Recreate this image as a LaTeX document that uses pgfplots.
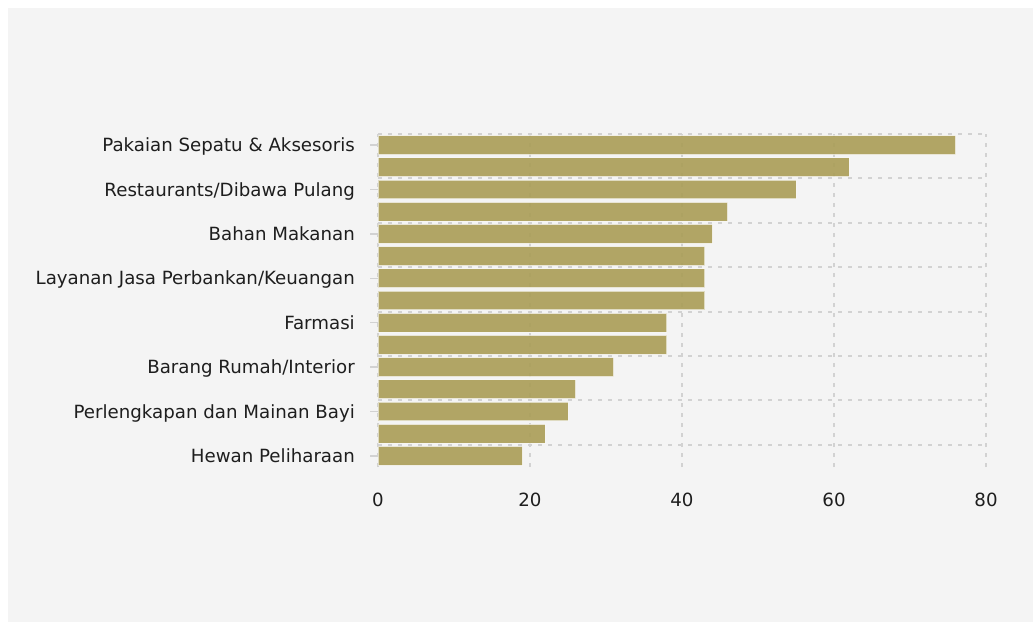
\documentclass[border=0pt]{standalone}
\usepackage{pgfplots}
\pgfplotsset{compat=1.18}
\usepackage{pgfplotstable}
\usepackage{fontspec}
\setmainfont{DejaVu Sans}
\definecolor{bg}{RGB}{244,244,244}
\definecolor{barc}{RGB}{170,157,86}
\definecolor{gridc}{RGB}{210,210,210}
\definecolor{txt}{RGB}{30,30,30}

\pgfplotstableread{
y v
14 76
13 62
12 55
11 46
10 44
9 43
8 43
7 43
6 38
5 38
4 31
3 26
2 25
1 22
0 19
}\data

\begin{document}
\begin{tikzpicture}[x=1pt,y=1pt]
\fill[white] (0,0) rectangle (1033,622);
\fill[bg] (8,0) rectangle (1033,614);
\begin{axis}[
  at={(378pt,155pt)}, anchor=south west,
  scale only axis, width=608pt, height=333pt,
  xbar, bar width=0.85,
  xmin=0, xmax=80, ymin=-0.5, ymax=14.5,
  axis line style={draw=none},
  xtick={0,20,40,60,80},
  ytick={0,2,...,14},
  yticklabels={Hewan Peliharaan, Perlengkapan dan Mainan Bayi, Barang Rumah/Interior, Farmasi, Layanan Jasa Perbankan/Keuangan, Bahan Makanan, Restaurants/Dibawa Pulang, Pakaian Sepatu \& Aksesoris},
  extra y ticks={0.5,2.5,4.5,6.5,8.5,10.5,12.5,14.5},
  extra y tick labels={},
  extra y tick style={grid=major, major tick length=0pt},
  xmajorgrids=true, ymajorgrids=false,
  grid style={gridc, line width=2pt, dash pattern=on 4pt off 6pt},
  tick align=outside,
  ytick pos=left, xtick pos=bottom,
  major tick length=8pt,
  x tick style={draw=none},
  y tick style={draw=gridc, line width=1.5pt},
  /pgf/number format/assume math mode=true,
  ticklabel style={font=\fontsize{18.2}{21}\selectfont, text=txt, inner sep=0pt},
  yticklabel style={anchor=east, text height=13.3pt, text depth=0pt, xshift=-15pt},
  xticklabel style={anchor=north, text height=13.3pt, text depth=0pt, yshift=-18pt},
]
\addplot[fill=barc, fill opacity=0.9, draw=white, draw opacity=0.6, line width=1pt] table[x=v, y=y]{\data};
\end{axis}
\end{tikzpicture}
\end{document}
